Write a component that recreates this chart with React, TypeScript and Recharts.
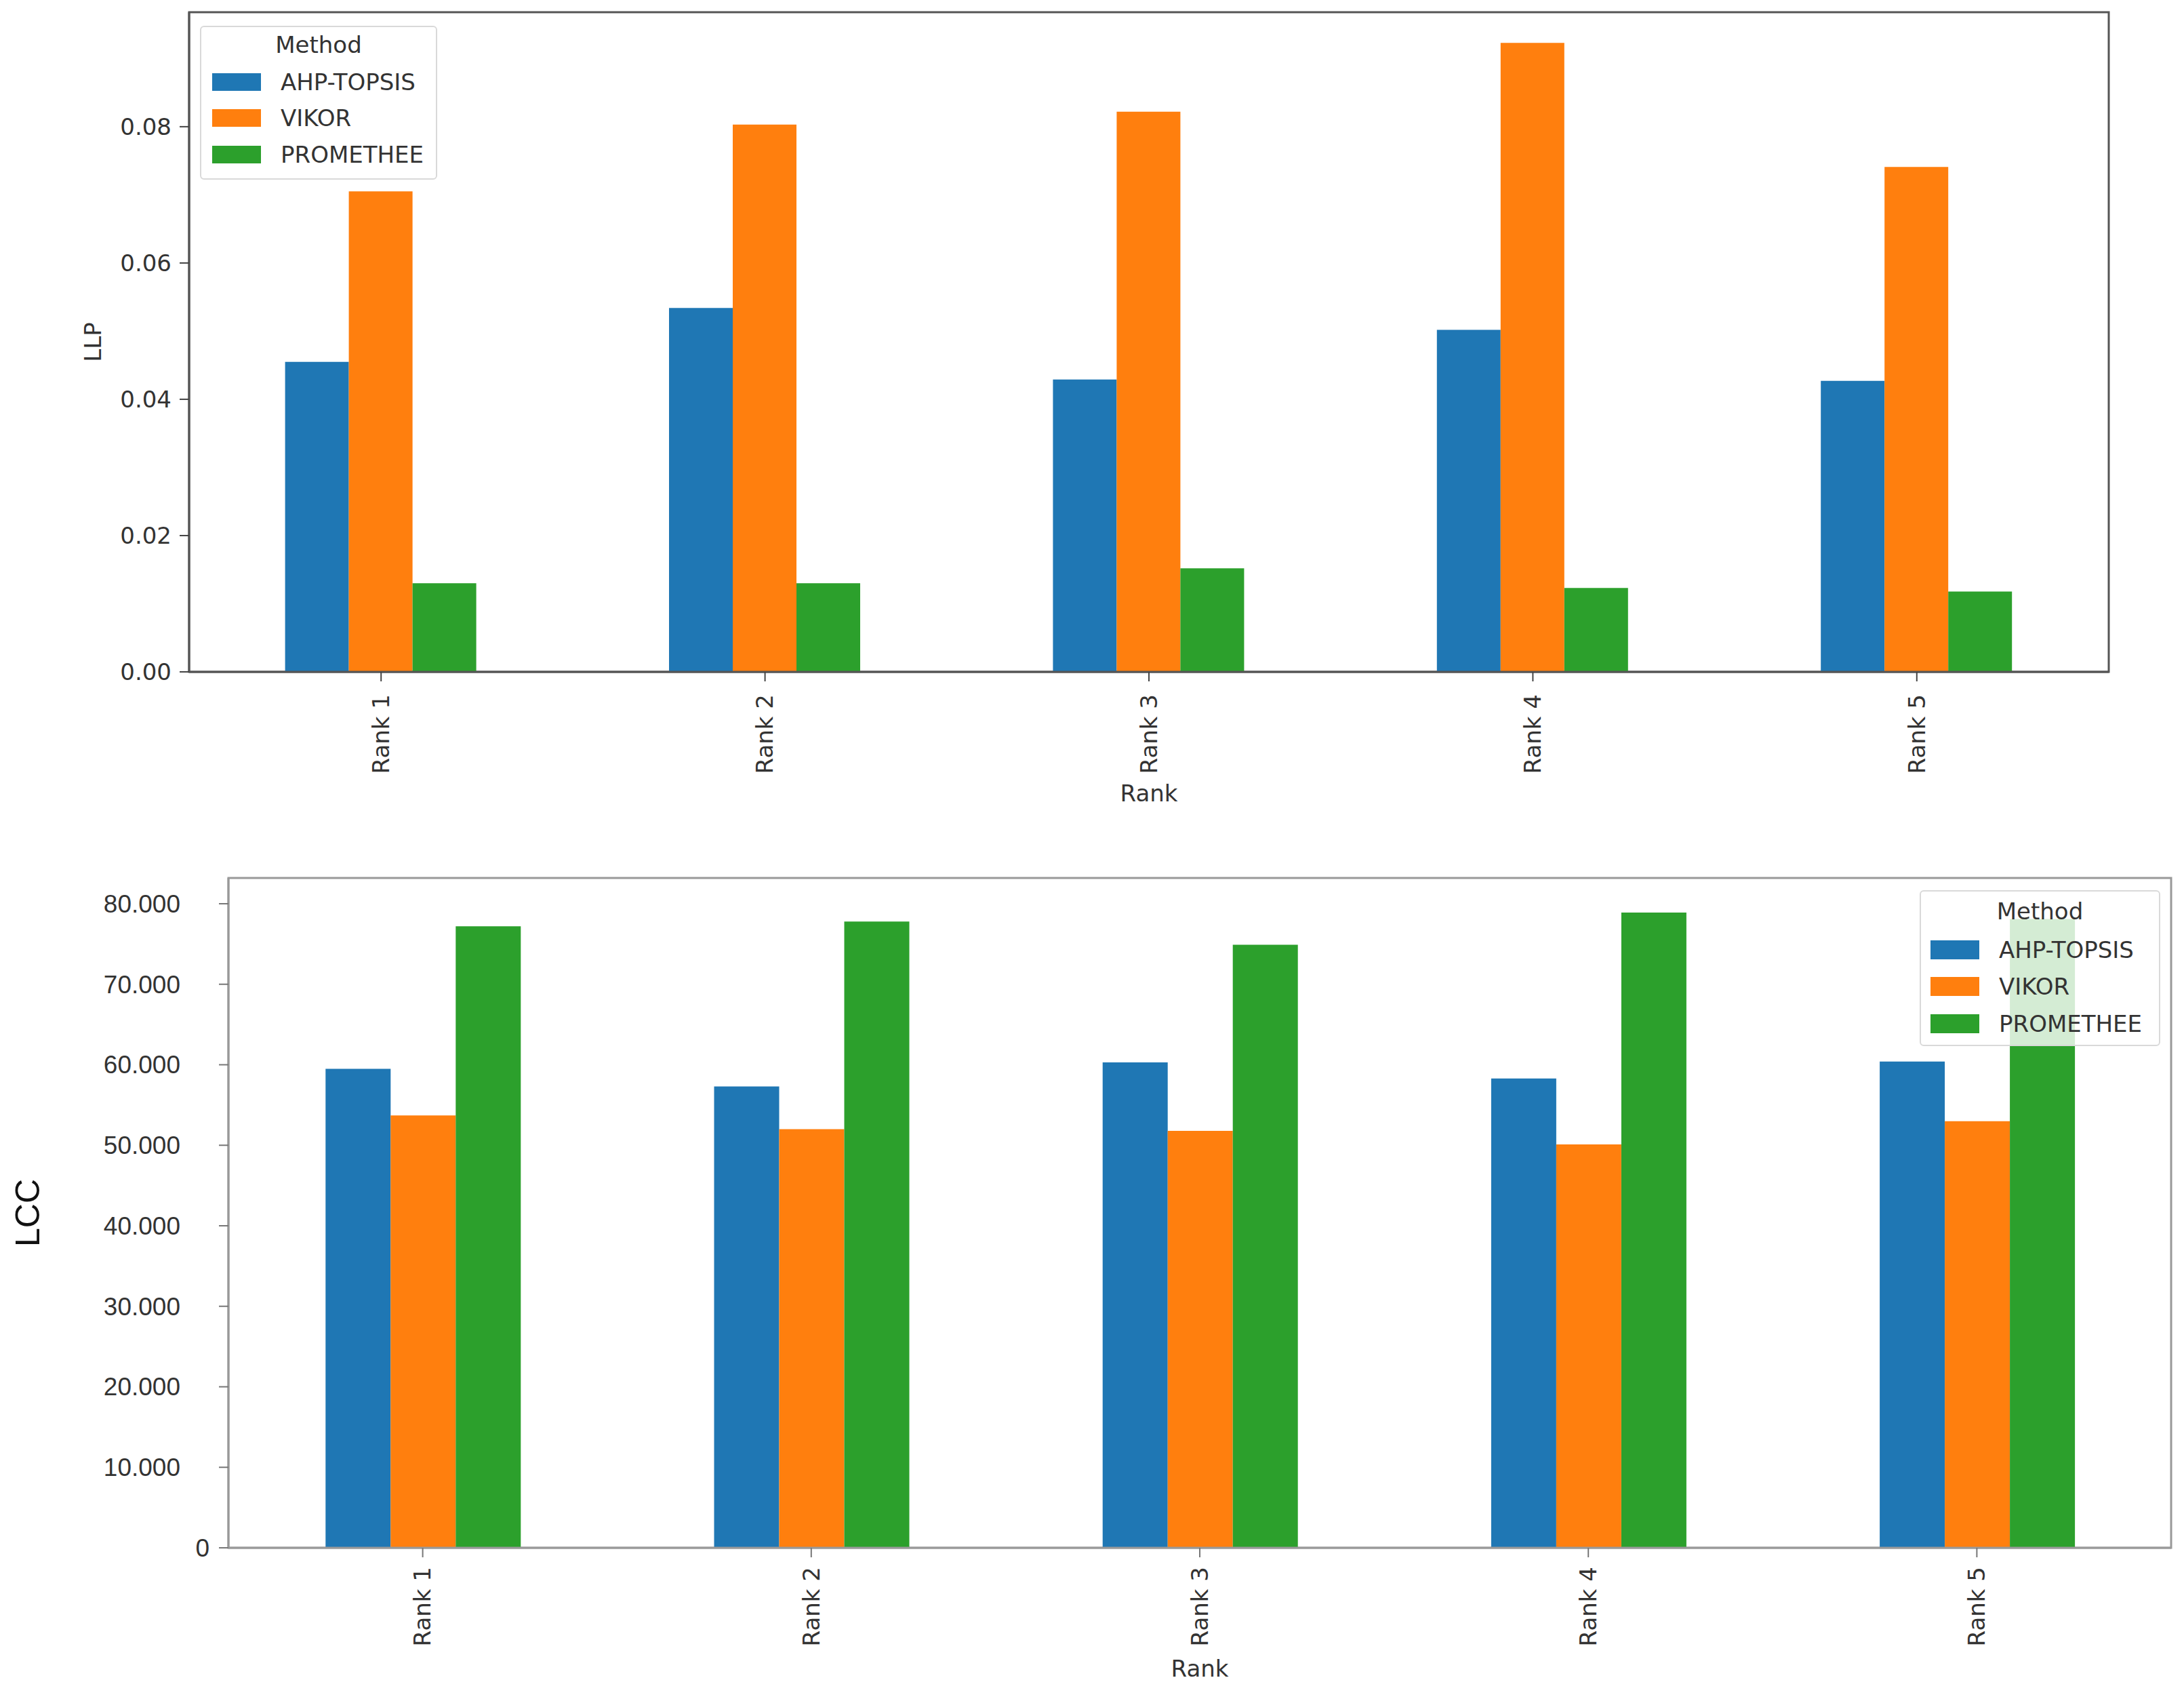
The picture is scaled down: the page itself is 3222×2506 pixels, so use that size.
import { BarChart, Bar, XAxis, YAxis, Label, ReferenceArea } from "recharts";

const ranks = ["Rank 1", "Rank 2", "Rank 3", "Rank 4", "Rank 5"];
const methods = ["AHP-TOPSIS", "VIKOR", "PROMETHEE"];
const COLORS = ["#1f77b4", "#ff7f0e", "#2ca02c"];

// LLP per rank
const llpAhp = [0.0455, 0.0534, 0.0429, 0.0502, 0.0427];
const llpVikor = [0.0705, 0.0803, 0.0822, 0.0923, 0.0741];
const llpProm = [0.013, 0.013, 0.0152, 0.0123, 0.0118];
const llpTicks = [0, 0.02, 0.04, 0.06, 0.08];
const LLP_MAX = 0.0968;

// LCC per rank
const lccAhp = [59.5, 57.3, 60.3, 58.3, 60.4];
const lccVikor = [53.7, 52.0, 51.8, 50.1, 53.0];
const lccProm = [77.2, 77.8, 74.9, 78.9, 78.1];
const lccTicks = [0, 10, 20, 30, 40, 50, 60, 70, 80];
const LCC_MAX = 83.2;

const llpData = ranks.map((rank, i) => ({
  rank,
  [methods[0]]: llpAhp[i],
  [methods[1]]: llpVikor[i],
  [methods[2]]: llpProm[i],
}));

const lccData = ranks.map((rank, i) => ({
  rank,
  [methods[0]]: lccAhp[i],
  [methods[1]]: lccVikor[i],
  [methods[2]]: lccProm[i],
}));

const DEJAVU = "DejaVu Sans";
const ARIAL = "Liberation Sans";

const RankTick = ({ x, y, payload, gap }: any) => {
  const ty = y + gap;
  return (
    <text
      x={x}
      y={ty}
      transform={`rotate(-90 ${x} ${ty})`}
      textAnchor="end"
      dy="0.35em"
      fontFamily={DEJAVU}
      fontSize={34}
      fill="#333"
    >
      {payload.value}
    </text>
  );
};

const LccTick = ({ x, y, payload }: any) => {
  const isZero = payload.value === 0;
  return (
    <text
      x={x - (isZero ? 14 : 57)}
      y={y}
      dy="0.35em"
      textAnchor="end"
      fontFamily={ARIAL}
      fontSize={37}
      fill="#333"
    >
      {isZero ? "0" : payload.value.toFixed(3)}
    </text>
  );
};

const Legend = ({ box, rows, titleY, swatchX, textX, swatchH }: any) => (
  <div
    style={{
      position: "absolute",
      ...box,
      boxSizing: "border-box",
      border: "2px solid #d9d9d9",
      borderRadius: 6,
      background: "rgba(255,255,255,0.8)",
      fontFamily: DEJAVU,
      fontSize: 34,
      color: "#333",
      zIndex: 5,
    }}
  >
    <div
      style={{
        position: "absolute",
        top: titleY - 20,
        left: 0,
        width: "100%",
        lineHeight: "40px",
        textAlign: "center",
      }}
    >
      Method
    </div>
    {methods.map((m, i) => (
      <div key={m}>
        <div
          style={{
            position: "absolute",
            left: swatchX,
            top: rows[i] - swatchH / 2,
            width: 72,
            height: swatchH,
            background: COLORS[i],
          }}
        />
        <div
          style={{
            position: "absolute",
            left: textX,
            top: rows[i] - 20,
            lineHeight: "40px",
            whiteSpace: "nowrap",
          }}
        >
          {m}
        </div>
      </div>
    ))}
  </div>
);

const App = () => {
  return (
    <div
      style={{
        position: "absolute",
        left: 0,
        top: 0,
        width: 3222,
        height: 2506,
        background: "#fff",
      }}
    >
      <BarChart
        width={3222}
        height={1240}
        data={llpData}
        margin={{ top: 18, right: 111, bottom: 0, left: 0 }}
        barCategoryGap="25%"
        barGap={0}
      >
        <XAxis
          dataKey="rank"
          height={249}
          tickSize={14}
          tickMargin={0}
          tickLine={{ stroke: "#444", strokeWidth: 2 }}
          axisLine={{ stroke: "#555", strokeWidth: 3 }}
          tick={(p: any) => <RankTick {...p} gap={19} />}
        >
          <Label
            content={({ viewBox }: any) => (
              <text
                x={viewBox.x + viewBox.width / 2}
                y={viewBox.y + 179}
                dy="0.35em"
                textAnchor="middle"
                fontFamily={DEJAVU}
                fontSize={34}
                fill="#333"
              >
                Rank
              </text>
            )}
          />
        </XAxis>
        <YAxis
          width={279}
          domain={[0, LLP_MAX]}
          ticks={llpTicks}
          allowDataOverflow
          tickSize={14}
          tickMargin={12}
          tickFormatter={(v: number) => v.toFixed(2)}
          tickLine={{ stroke: "#444", strokeWidth: 2 }}
          axisLine={{ stroke: "#555", strokeWidth: 3 }}
          tick={{ fontFamily: DEJAVU, fontSize: 34, fill: "#333" }}
        >
          <Label
            content={({ viewBox }: any) => {
              const cx = viewBox.x + 137;
              const cy = viewBox.y + viewBox.height / 2;
              return (
                <text
                  x={cx}
                  y={cy}
                  transform={`rotate(-90 ${cx} ${cy})`}
                  dy="0.35em"
                  textAnchor="middle"
                  fontFamily={DEJAVU}
                  fontSize={34}
                  fill="#333"
                >
                  LLP
                </text>
              );
            }}
          />
        </YAxis>
        {methods.map((m, i) => (
          <Bar key={m} dataKey={m} fill={COLORS[i]} isAnimationActive={false} />
        ))}
        <ReferenceArea
          y1={0}
          y2={LLP_MAX}
          fill="none"
          fillOpacity={0}
          stroke="#555"
          strokeWidth={3}
          ifOverflow="visible"
        />
      </BarChart>

      <BarChart
        width={3222}
        height={1266}
        data={lccData}
        margin={{ top: 55, right: 19, bottom: 0, left: 0 }}
        barCategoryGap="25%"
        barGap={0}
      >
        <XAxis
          dataKey="rank"
          height={223}
          tickSize={14}
          tickMargin={0}
          tickLine={{ stroke: "#777", strokeWidth: 2 }}
          axisLine={{ stroke: "#999", strokeWidth: 3 }}
          tick={(p: any) => <RankTick {...p} gap={14} />}
        >
          <Label
            content={({ viewBox }: any) => (
              <text
                x={viewBox.x + viewBox.width / 2}
                y={viewBox.y + 178}
                dy="0.35em"
                textAnchor="middle"
                fontFamily={DEJAVU}
                fontSize={34}
                fill="#333"
              >
                Rank
              </text>
            )}
          />
        </XAxis>
        <YAxis
          width={337}
          domain={[0, LCC_MAX]}
          ticks={lccTicks}
          allowDataOverflow
          tickSize={14}
          tickMargin={0}
          tickLine={{ stroke: "#777", strokeWidth: 2 }}
          axisLine={{ stroke: "#999", strokeWidth: 3 }}
          tick={(p: any) => <LccTick {...p} />}
        >
          <Label
            content={({ viewBox }: any) => {
              const cx = viewBox.x + 40;
              const cy = viewBox.y + viewBox.height / 2;
              return (
                <text
                  x={cx}
                  y={cy}
                  transform={`rotate(-90 ${cx} ${cy})`}
                  dy="0.35em"
                  textAnchor="middle"
                  fontFamily={ARIAL}
                  fontSize={50}
                  fill="#111"
                >
                  LCC
                </text>
              );
            }}
          />
        </YAxis>
        {methods.map((m, i) => (
          <Bar key={m} dataKey={m} fill={COLORS[i]} isAnimationActive={false} />
        ))}
        <ReferenceArea
          y1={0}
          y2={LCC_MAX}
          fill="none"
          fillOpacity={0}
          stroke="#999"
          strokeWidth={3}
          ifOverflow="visible"
        />
      </BarChart>

      <Legend
        box={{ left: 295, top: 38, width: 350, height: 227 }}
        titleY={26}
        rows={[81, 134, 188]}
        swatchX={16}
        swatchH={26}
        textX={117}
      />
      <Legend
        box={{ left: 2832, top: 1313, width: 355, height: 230 }}
        titleY={29}
        rows={[86, 140, 195]}
        swatchX={14}
        swatchH={28}
        textX={115}
      />
    </div>
  );
};

export default App;
